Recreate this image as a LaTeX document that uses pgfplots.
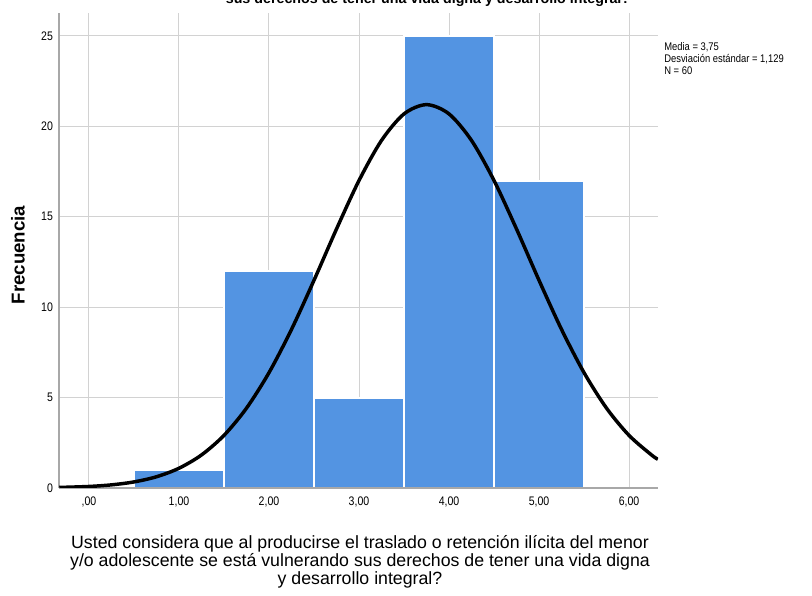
\documentclass[border=0pt]{standalone}
\usepackage{fontspec}
\setmainfont{Liberation Sans}
\newfontfamily\narrowfont[FakeStretch=0.85]{Liberation Sans}
\usepackage{pgfplots}
\pgfplotsset{compat=1.18}
\definecolor{barblue}{RGB}{83,148,226}
\definecolor{gridgray}{RGB}{210,210,210}

\begin{document}
\begin{tikzpicture}
\useasboundingbox (0,0) rectangle (609pt,446.25pt);
\begin{axis}[
    at={(44.25pt,80.25pt)}, anchor=south west,
    scale only axis,
    width=449.25pt, height=356.25pt,
    xmin=-0.333, xmax=6.322,
    ymin=0, ymax=26.27,
    axis x line*=bottom, axis y line*=left,
    axis line style={gridgray!80!black, line width=0.8pt, -},
    xtick={0,1,2,3,4,5,6},
    xticklabels={{,00},{1,00},{2,00},{3,00},{4,00},{5,00},{6,00}},
    ytick={0,5,10,15,20,25},
    major tick length=0pt,
    grid=major,
    major grid style={gridgray, line width=0.75pt},
    tick label style={font=\narrowfont\fontsize{9.3}{10}\selectfont, black},
    /pgf/number format/assume math mode=true,
    xticklabel style={yshift=-3pt},
    yticklabel style={xshift=-1pt},
    clip=true,
]
\addplot[ybar interval, fill=barblue, draw=white, line width=1.6pt] coordinates {
    (0.5,1) (1.5,12) (2.5,5) (3.5,25) (4.5,17) (5.5,0)
};
\draw[gridgray!80!black, line width=0.8pt] (rel axis cs:0,0) -- (rel axis cs:1,0);
\addplot[black, line width=2.6pt, smooth] coordinates {
    (-0.33,0.031) (0.00,0.085) (0.25,0.174) (0.50,0.336) (0.75,0.621)
    (1.00,1.092) (1.25,1.827) (1.50,2.910) (1.75,4.415) (2.00,6.378)
    (2.25,8.771) (2.50,11.487) (2.75,14.323) (3.00,17.004) (3.25,19.221)
    (3.50,20.689) (3.75,21.202) (4.00,20.689) (4.25,19.221) (4.50,17.004)
    (4.75,14.323) (5.00,11.487) (5.25,8.771) (5.50,6.378) (5.75,4.415)
    (6.00,2.910) (6.25,1.827) (6.32,1.590)
};
\end{axis}
% legend block
\node[anchor=north west, align=left, inner sep=0pt,
      font=\narrowfont\fontsize{8.3}{8.8}\selectfont] at (498pt,414.5pt)
  {Media = 3,75\\Desviación estándar = 1,129\\N = 60};
% y label
\node[rotate=90, font=\fontsize{14}{15}\selectfont\bfseries] at (13.5pt,255pt) {Frecuencia};
% x label
\node[anchor=north, align=center, inner sep=0pt,
      font=\fontsize{13.3}{13.5}\selectfont] at (270pt,45pt)
  {Usted considera que al producirse el traslado o retención ilícita del menor\\
   y/o adolescente se está vulnerando sus derechos de tener una vida digna\\
   y desarrollo integral?};
% title (cut at top)
\node[anchor=base, inner sep=0pt, font=\fontsize{10.7}{12}\selectfont\bfseries]
  at (321pt,443.5pt) {sus derechos de tener una vida digna y desarrollo integral?};
\end{tikzpicture}
\end{document}
